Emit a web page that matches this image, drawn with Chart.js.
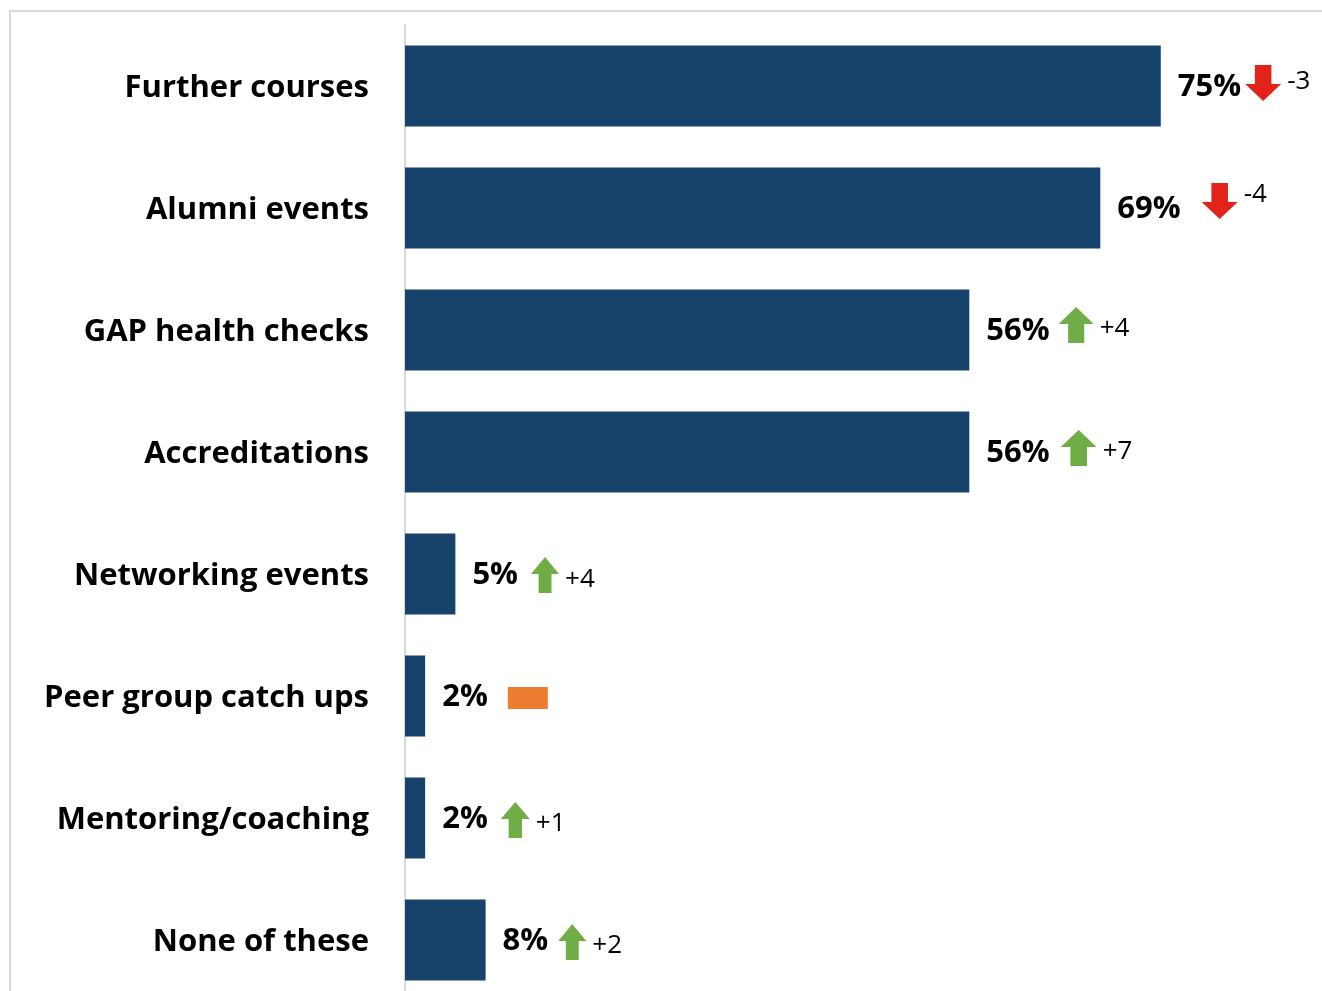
<!DOCTYPE html>
<html>
<head>
<meta charset="utf-8">
<script src="https://cdn.jsdelivr.net/npm/chart.js@4"></script>
<style>
  html, body { margin: 0; padding: 0; background: #ffffff; overflow: hidden; }
  #wrap { position: relative; width: 1322px; height: 1010px; }
</style>
</head>
<body>
<div id="wrap"><canvas id="chart" width="1322" height="1010"></canvas></div>
<script>
// Services used, share of respondents (%)
const categories = [
  'Further courses',
  'Alumni events',
  'GAP health checks',
  'Accreditations',
  'Networking events',
  'Peer group catch ups',
  'Mentoring/coaching',
  'None of these'
];
const shares = [75, 69, 56, 56, 5, 2, 2, 8];
// Change in points versus the previous wave (0 = no change)
const changes = [-3, -4, 4, 7, 4, 0, 1, 2];

const BAR_COLOR = '#16426C';
const UP_COLOR = '#70AD47';
const DOWN_COLOR = '#E2231A';
const FLAT_COLOR = '#ED7D31';
const FAMILY = '"Open Sans", Lato, sans-serif';
const LABEL_FONT = 'bold 31px ' + FAMILY;
const DELTA_FONT = '26px ' + FAMILY;

// Outer frame (left and top edges) and white background
const framePlugin = {
  id: 'frame',
  beforeDraw(chart) {
    const ctx = chart.ctx;
    ctx.save();
    ctx.fillStyle = '#ffffff';
    ctx.fillRect(0, 0, chart.width, chart.height);
    ctx.strokeStyle = '#D9D9D9';
    ctx.lineWidth = 2;
    ctx.beginPath();
    ctx.moveTo(10, chart.height + 5);
    ctx.lineTo(10, 11);
    ctx.lineTo(chart.width + 5, 11);
    ctx.stroke();
    ctx.restore();
  }
};

// Value labels plus a trend arrow and the change in points
const annotatePlugin = {
  id: 'annotate',
  afterDatasetsDraw(chart, args, opts) {
    const ctx = chart.ctx;
    const meta = chart.getDatasetMeta(0);
    ctx.save();
    meta.data.forEach((bar, i) => {
      const yc = bar.y;
      const label = shares[i] + '%';
      const lx = bar.x + opts.labelGap;
      ctx.font = LABEL_FONT;
      ctx.fillStyle = '#000000';
      ctx.textAlign = 'left';
      ctx.textBaseline = 'middle';
      ctx.fillText(label, lx, yc + opts.labelDy);
      const lw = ctx.measureText(label).width;

      const d = changes[i];
      const ax = lx + lw + opts.arrowGap[i];
      const aw = opts.arrowWidth[i];
      const ah = 36;
      const ay = yc + opts.arrowDy[i] - ah / 2;
      const shaft = aw * 0.46;
      const head = 17;

      if (d === 0) {
        ctx.fillStyle = FLAT_COLOR;
        ctx.fillRect(ax, yc + 2 - 11, 40, 22);
        return;
      }
      ctx.beginPath();
      if (d > 0) {
        ctx.fillStyle = UP_COLOR;
        ctx.moveTo(ax + aw / 2, ay);
        ctx.lineTo(ax + aw, ay + head);
        ctx.lineTo(ax + aw / 2 + shaft / 2, ay + head);
        ctx.lineTo(ax + aw / 2 + shaft / 2, ay + ah);
        ctx.lineTo(ax + aw / 2 - shaft / 2, ay + ah);
        ctx.lineTo(ax + aw / 2 - shaft / 2, ay + head);
        ctx.lineTo(ax, ay + head);
      } else {
        ctx.fillStyle = DOWN_COLOR;
        ctx.moveTo(ax + aw / 2 - shaft / 2, ay);
        ctx.lineTo(ax + aw / 2 + shaft / 2, ay);
        ctx.lineTo(ax + aw / 2 + shaft / 2, ay + ah - head);
        ctx.lineTo(ax + aw, ay + ah - head);
        ctx.lineTo(ax + aw / 2, ay + ah);
        ctx.lineTo(ax, ay + ah - head);
        ctx.lineTo(ax + aw / 2 - shaft / 2, ay + ah - head);
      }
      ctx.closePath();
      ctx.fill();

      ctx.font = DELTA_FONT;
      ctx.fillStyle = '#000000';
      const txt = (d > 0 ? '+' : '-') + Math.abs(d);
      ctx.fillText(txt, ax + aw + opts.textGap, yc + opts.textDy[i]);
    });
    ctx.restore();
  }
};

new Chart(document.getElementById('chart'), {
  type: 'bar',
  data: {
    labels: categories,
    datasets: [{
      data: shares,
      backgroundColor: BAR_COLOR,
      borderWidth: 0,
      categoryPercentage: 1,
      barPercentage: 0.664
    }]
  },
  options: {
    indexAxis: 'y',
    responsive: false,
    animation: false,
    events: [],
    layout: { padding: { top: 25, bottom: 9, left: 0, right: 0 } },
    scales: {
      x: {
        display: false,
        min: 0,
        max: 91
      },
      y: {
        afterFit(scale) {
          scale.width = 405;
          scale.paddingTop = 0;
          scale.paddingBottom = 0;
        },
        grid: { display: false, drawTicks: false },
        border: { display: true, color: '#D9D9D9', width: 2 },
        ticks: {
          color: '#000000',
          padding: 36,
          labelOffset: 2,
          font: { family: FAMILY, size: 31, weight: 'bold' }
        }
      }
    },
    plugins: {
      legend: { display: false },
      tooltip: { enabled: false },
      annotate: {
        labelGap: 17,
        labelDy: 1,
        arrowGap: [4, 21, 9, 11, 13, 20, 13, 10],
        arrowWidth: [36, 36, 35, 36, 28, 28, 29, 28],
        arrowDy: [-3, -7, -5, -4, 1, 0, 2, 2],
        textDy: [-4, -13, -1, 0, 6, 0, 6, 6],
        textGap: 6
      }
    }
  },
  plugins: [framePlugin, annotatePlugin]
});
</script>
</body>
</html>
